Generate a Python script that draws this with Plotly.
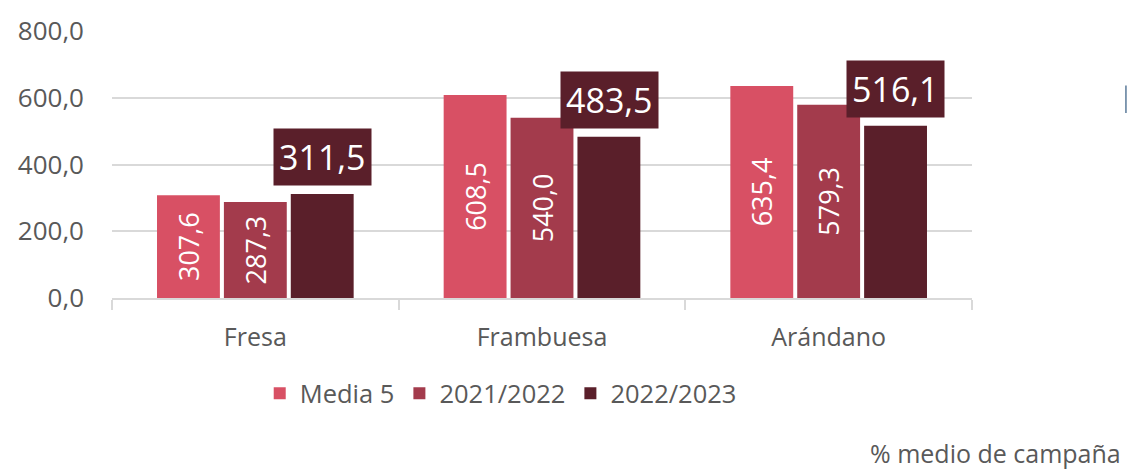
import plotly.graph_objects as go

categories = ["Fresa", "Frambuesa", "Arándano"]
series_names = ["Media 5", "2021/2022", "2022/2023"]
media5 = [307.6, 608.5, 635.4]
s2122 = [287.3, 540.0, 579.3]
s2223 = [311.5, 483.5, 516.1]
colors = ["#D85064", "#A33B4C", "#5A1F2A"]
y_ticks = [0, 200, 400, 600, 800]

def fmt(v):
    return f"{v:.1f}".replace(".", ",")

FONT = "Open Sans"
GRAY = "#595959"

fig = go.Figure()
for name, vals, col, inside in [
    (series_names[0], media5, colors[0], True),
    (series_names[1], s2122, colors[1], True),
    (series_names[2], s2223, colors[2], False),
]:
    fig.add_trace(go.Bar(
        name=name, x=categories, y=vals, marker_color=col,
        marker_line_width=0,
        text=[fmt(v) for v in vals] if inside else None,
        textposition="inside" if inside else "none",
        insidetextanchor="middle",
        textangle=-90,
        insidetextfont=dict(family=FONT, size=27, color="white"),
        hoverinfo="skip",
    ))

for cat, v in zip(categories, s2223):
    fig.add_annotation(
        x=cat, y=v, xref="x", yref="y", text=fmt(v), showarrow=False,
        xshift=67, yshift=8, yanchor="bottom", xanchor="center",
        font=dict(family=FONT, size=34, color="white"),
        bgcolor=colors[2], borderpad=5,
    )

fig.add_annotation(
    x=1.175, y=-0.58, xref="paper", yref="paper", text="% medio de campaña",
    showarrow=False, xanchor="right", yanchor="middle",
    font=dict(family=FONT, size=25, color=GRAY),
)

fig.add_shape(type="line", xref="paper", yref="paper",
              x0=1.179, x1=1.179, y0=0.693, y1=0.796,
              line=dict(color="#5B7A99", width=1.5))

fig.update_layout(
    width=1128, height=469,
    margin=dict(l=112, r=156, t=24, b=171),
    paper_bgcolor="white", plot_bgcolor="white",
    barmode="group", bargap=0.30, bargroupgap=0.06,
    font=dict(family=FONT, color=GRAY),
    showlegend=True,
    legend=dict(orientation="h", x=0.452, xanchor="center", y=-0.358, yanchor="middle",
                font=dict(family=FONT, size=25.5, color=GRAY),
                itemwidth=30, traceorder="normal"),
    uniformtext=dict(mode=False),
)
fig.update_xaxes(
    showline=True, linecolor="#D9D9D9", linewidth=2,
    ticks="outside", tickson="boundaries", ticklen=10, tickcolor="#D9D9D9", tickwidth=2,
    tickfont=dict(family=FONT, size=25, color=GRAY),
    ticklabelstandoff=16,
    showgrid=False,
)
fig.update_yaxes(
    range=[0, 800], tickvals=y_ticks, ticktext=[fmt(v) for v in y_ticks],
    showgrid=True, gridcolor="#D9D9D9", gridwidth=2,
    zeroline=False, showline=False,
    tickfont=dict(family=FONT, size=26, color=GRAY),
    ticks="", ticklabelstandoff=27,
)

fig.write_html("out.html", config={"displayModeBar": False},
               post_script="document.body.style.margin='0';document.body.style.padding='0';")
